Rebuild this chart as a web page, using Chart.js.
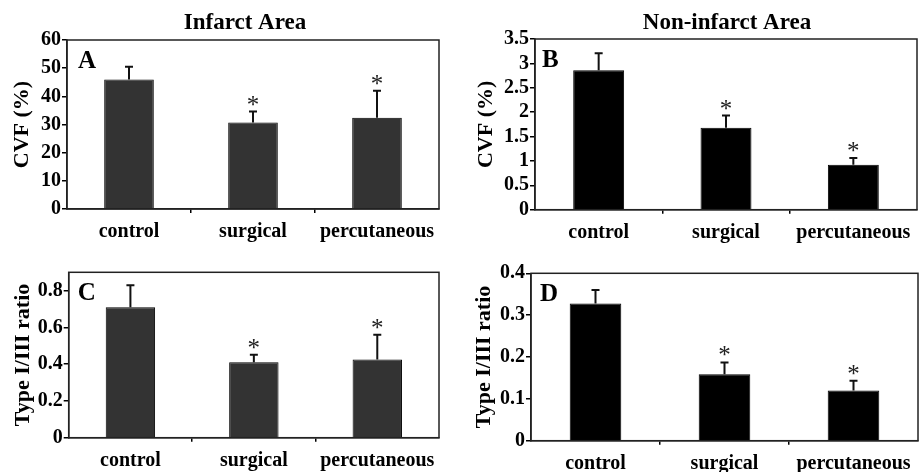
<!DOCTYPE html>
<html>
<head>
<meta charset="utf-8">
<script src="https://cdn.jsdelivr.net/npm/chart.js@4.4.1/dist/chart.umd.min.js"></script>
<style>
  html, body { margin: 0; padding: 0; background: #ffffff; }
  #wrap { position: relative; width: 920px; height: 472px; overflow: hidden; background: #fff; }
  .panel { position: absolute; }
</style>
</head>
<body>
<div id="wrap">
  <div class="panel" style="left:0px;top:240px;width:460px;height:232px;"><canvas id="cC" width="460" height="232"></canvas></div>
  <div class="panel" style="left:460px;top:240px;width:460px;height:232px;"><canvas id="cD" width="460" height="232"></canvas></div>
  <div class="panel" style="left:0px;top:0px;width:460px;height:256px;"><canvas id="cA" width="460" height="256"></canvas></div>
  <div class="panel" style="left:460px;top:0px;width:460px;height:256px;"><canvas id="cB" width="460" height="256"></canvas></div>
</div>
<script>
// ---------------- DATA ----------------
const categories = ['control', 'surgical', 'percutaneous'];
const significant = [false, true, true];

// Panel A: CVF (%) infarct area
const cvfInfarct = [46.0, 30.7, 32.4];
const cvfInfarctErr = [4.5, 3.9, 9.6];
// Panel B: CVF (%) non-infarct area
const cvfNonInfarct = [2.86, 1.68, 0.92];
const cvfNonInfarctErr = [0.35, 0.25, 0.14];
// Panel C: Type I/III ratio infarct area
const ratioInfarct = [0.71, 0.41, 0.425];
const ratioInfarctErr = [0.12, 0.042, 0.135];
// Panel D: Type I/III ratio non-infarct area
const ratioNonInfarct = [0.328, 0.159, 0.12];
const ratioNonInfarctErr = [0.032, 0.028, 0.023];

// Axis settings
const axisA = { min: 0, max: 60, step: 10 };
const axisB = { min: 0, max: 3.5, step: 0.5 };
const axisC = { min: 0, max: 0.9, step: 0.2 };
const axisD = { min: 0, max: 0.4, step: 0.1 };

// ---------------- STYLE ----------------
const SERIF = '"Liberation Serif", "Times New Roman", Times, serif';

const decorPlugin = {
  id: 'decor',
  afterDatasetsDraw(chart, args, opts) {
    const ctx = chart.ctx;
    const area = chart.chartArea;
    const y = chart.scales.y;
    const meta = chart.getDatasetMeta(0);
    const ds = chart.data.datasets[0];
    ctx.save();
    // error bars (upper only) + asterisks
    meta.data.forEach((bar, i) => {
      const top = ds.data[i] + opts.errors[i];
      const yTop = y.getPixelForValue(top);
      ctx.strokeStyle = '#111';
      ctx.lineWidth = 2;
      ctx.beginPath();
      ctx.moveTo(bar.x, bar.y);
      ctx.lineTo(bar.x, yTop);
      ctx.moveTo(bar.x - 4, yTop);
      ctx.lineTo(bar.x + 4, yTop);
      ctx.stroke();
      if (opts.stars[i]) {
        ctx.fillStyle = '#222';
        ctx.font = '25px ' + SERIF;
        ctx.textAlign = 'center';
        ctx.textBaseline = 'alphabetic';
        ctx.fillText('*', bar.x, yTop + 1);
      }
    });
    // frame
    ctx.strokeStyle = '#222';
    ctx.lineWidth = 1.5;
    ctx.strokeRect(area.left, area.top, area.right - area.left, area.bottom - area.top);
    // panel letter
    ctx.fillStyle = '#000';
    ctx.font = 'bold 25px ' + SERIF;
    ctx.textAlign = 'left';
    ctx.textBaseline = 'alphabetic';
    ctx.fillText(opts.letter, area.left + opts.letterDx, area.top + 28);
    // panel title
    if (opts.title) {
      ctx.font = 'bold 23px ' + SERIF;
      ctx.textAlign = 'center';
      ctx.fillText(opts.title, opts.titleX, 29);
    }
    ctx.restore();
  }
};

function fmtTick(v) {
  return String(parseFloat(Number(v).toFixed(3)));
}

function makeChart(id, values, errors, axis, fill, yTitle, plot, deco) {
  const canvas = document.getElementById(id);
  const W = canvas.width;
  return new Chart(canvas, {
    type: 'bar',
    data: {
      labels: categories,
      datasets: [{
        data: values,
        backgroundColor: fill,
        borderColor: '#000',
        borderWidth: 1,
        barPercentage: 0.4,
        categoryPercentage: 1.0
      }]
    },
    options: {
      responsive: false,
      animation: false,
      devicePixelRatio: 1,
      layout: { padding: { left: 0, top: plot.top, right: W - plot.right, bottom: 0 } },
      plugins: {
        legend: { display: false },
        tooltip: { enabled: false },
        title: { display: false },
        decor: Object.assign({ errors: errors, stars: significant }, deco)
      },
      scales: {
        x: {
          offset: true,
          grid: {
            offset: true,
            drawOnChartArea: false,
            drawTicks: true,
            tickLength: 4,
            lineWidth: 1.5,
            color: (c) => (c.index === 0 || c.index === undefined) ? 'rgba(0,0,0,0)' : '#000'
          },
          border: { display: true, color: '#222', width: 1.5 },
          ticks: {
            color: '#000',
            padding: 7,
            font: { family: SERIF, size: 20, weight: 'bold' },
            maxRotation: 0,
            autoSkip: false
          },
          afterFit: (s) => { s.height = canvas.height - plot.bottom; }
        },
        y: {
          min: axis.min,
          max: axis.max,
          grid: {
            drawOnChartArea: false,
            drawTicks: true,
            tickLength: 5,
            lineWidth: 1.5,
            color: '#000'
          },
          border: { display: true, color: '#222', width: 1.5 },
          ticks: {
            stepSize: axis.step,
            includeBounds: false,
            autoSkip: false,
            color: '#000',
            padding: 1,
            font: { family: SERIF, size: 20, weight: 'bold' },
            callback: (v) => fmtTick(v)
          },
          title: {
            display: true,
            text: yTitle,
            color: '#000',
            font: { family: SERIF, size: 22, weight: 'bold' },
            padding: { top: plot.titlePad, bottom: 0 }
          },
          afterFit: (s) => { s.width = plot.left; }
        }
      }
    },
    plugins: [decorPlugin]
  });
}

makeChart('cA', cvfInfarct, cvfInfarctErr, axisA, '#333333', 'CVF (%)',
  { left: 67, right: 439, top: 40, bottom: 209, titlePad: 9 },
  { letter: 'A', letterDx: 11, title: 'Infarct Area', titleX: 245 });
makeChart('cB', cvfNonInfarct, cvfNonInfarctErr, axisB, '#000000', 'CVF (%)',
  { left: 75, right: 457, top: 39, bottom: 209.7, titlePad: 13 },
  { letter: 'B', letterDx: 7, title: 'Non-infarct Area', titleX: 267 });
makeChart('cC', ratioInfarct, ratioInfarctErr, axisC, '#333333', 'Type I/III ratio',
  { left: 68.7, right: 439, top: 32.3, bottom: 197.7, titlePad: 10 },
  { letter: 'C', letterDx: 9, title: null });
makeChart('cD', ratioNonInfarct, ratioNonInfarctErr, axisD, '#000000', 'Type I/III ratio',
  { left: 71, right: 458, top: 33.3, bottom: 200.7, titlePad: 11 },
  { letter: 'D', letterDx: 9, title: null });
</script>
</body>
</html>
